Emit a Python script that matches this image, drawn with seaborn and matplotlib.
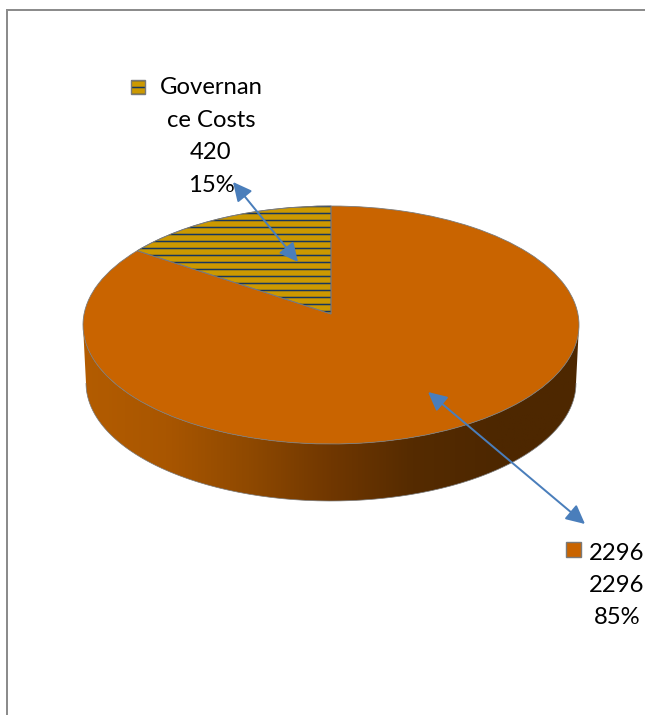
import numpy as np
import matplotlib
matplotlib.use("Agg")
import matplotlib.pyplot as plt
import seaborn as sns
from matplotlib.colors import LinearSegmentedColormap
from matplotlib.patches import PathPatch, Rectangle
from matplotlib.path import Path

# Chart data
categories = ["Governance Costs", "2296"]
values = [420, 2296]
percents = ["15%", "85%"]
label_lines = [["Governan", "ce Costs", "420", "15%"], ["2296", "2296", "85%"]]

# Colours
gold = "#CC9900"
orange = "#C96400"
navy = "#17365D"
edge_grey = "#7A7A7A"
arrow_blue = "#4A7EBB"
frame_grey = "#8C8C8C"
rim_stops = ["#B35C00", "#A95600", "#8F4900", "#703700", "#552B00", "#4D2700", "#4D2700"]

W, H = 645, 715
DPI = 84  # 84 dpi makes the '--' hatch come out 7 px apart

sns.set_theme(style="white")
plt.rcParams["font.family"] = ["Lato", "DejaVu Sans"]
plt.rcParams["hatch.linewidth"] = 1.3

fig = plt.figure(figsize=(W / DPI, H / DPI), dpi=DPI, facecolor="white")


def pixel_axes(zorder):
    a = fig.add_axes([0, 0, 1, 1], zorder=zorder)
    a.set_xlim(0, W)
    a.set_ylim(H, 0)
    a.axis("off")
    return a


back = pixel_axes(1)
over = pixel_axes(3)

# Outer frame, only left and top are in the picture
back.plot([6.5, 6.5, W], [H, 10.5, 10.5], color=frame_grey, lw=1.7, solid_joinstyle="miter")

# Side of the disc with a left to right gradient
cx, top_y, rx, ry = 331, 325, 248, 119
base_y, base_rx, base_ry = 383, 245, 118
t = np.linspace(0, np.pi, 200)
low_x = cx + base_rx * np.cos(t)
low_y = base_y + base_ry * np.sin(t)
up_x = cx + rx * np.cos(t[::-1])
up_y = top_y + ry * np.sin(t[::-1])
rim_path = Path(np.r_[np.c_[low_x, low_y], np.c_[up_x, up_y], [[low_x[0], low_y[0]]]], closed=True)
rim_cmap = LinearSegmentedColormap.from_list("rim", rim_stops)
grad = back.imshow(np.linspace(0, 1, 256)[None, :], cmap=rim_cmap, aspect="auto",
                   extent=(83, 579, 510, 320), zorder=2)
rim_patch = PathPatch(rim_path, fc="none", ec="none", transform=back.transData)
back.add_patch(rim_patch)
grad.set_clip_path(rim_patch)
back.add_patch(PathPatch(Path(np.c_[low_x, low_y]), fc="none", ec=edge_grey, lw=0.6, zorder=3))
back.set_xlim(0, W)
back.set_ylim(H, 0)

# Top face of the disc: a real pie squashed into an ellipse
pie_ax = fig.add_axes([(cx - rx) / W, 1 - (top_y + ry) / H, 2 * rx / W, 2 * ry / H], zorder=2)
wedges, _ = pie_ax.pie(values, colors=[gold, orange], startangle=90, counterclock=True, radius=1,
                       wedgeprops=dict(linewidth=0.7, edgecolor=edge_grey, clip_on=False))
pie_ax.set_aspect("auto")
pie_ax.set_xlim(-1, 1)
pie_ax.set_ylim(-1, 1)

# Perspective: the centre of the pie sits above the middle of the ellipse
shift = 0.0924
for w in wedges:
    p = w.get_path()
    u, v = p.vertices[:, 0], p.vertices[:, 1]
    d = 1 + shift * v
    w._path = Path(np.c_[np.sqrt(1 - shift ** 2) * u / d, (v + shift) / d], p.codes)

# Stripes on the small slice
stripes = PathPatch(wedges[0].get_path(), fc="none", ec=navy, lw=0, hatch="--", clip_on=False, zorder=wedges[0].get_zorder() + 1)
pie_ax.add_patch(stripes)
pie_ax.add_patch(PathPatch(wedges[0].get_path(), fc="none", ec=edge_grey, lw=0.7, clip_on=False,
                           zorder=wedges[0].get_zorder() + 2))

# Leader arrows
for start, end in [((233, 182), (298, 262)), ((428, 392), (585, 524))]:
    over.annotate("", xy=end, xytext=start,
                  arrowprops=dict(arrowstyle="<|-|>,head_length=0.85,head_width=0.42", color=arrow_blue,
                                  lw=1.7, shrinkA=0, shrinkB=0, mutation_scale=16))

# Data labels
font_size = 20.5
for lines, x0, y0 in [(label_lines[0], 211, 88), (label_lines[1], 617, 553)]:
    for i, line in enumerate(lines):
        over.text(x0, y0 + i * 32.4, line, ha="center", va="center", fontsize=font_size, color="black", clip_on=False)

# Legend keys next to the labels
over.add_patch(Rectangle((131, 80), 14, 14, fc=gold, ec=navy, lw=0, hatch="--"))
over.add_patch(Rectangle((131, 80), 14, 14, fc="none", ec=edge_grey, lw=1.2))
over.add_patch(Rectangle((565.5, 542), 15, 15, fc=orange, ec=edge_grey, lw=1.2))

fig.savefig("out.png", dpi=DPI)
